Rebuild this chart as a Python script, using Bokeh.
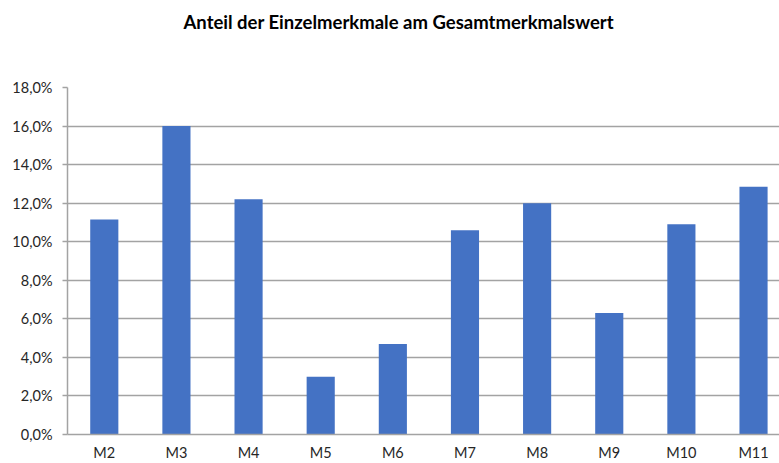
from bokeh.plotting import figure
from bokeh.models import FixedTicker, Range1d, Title
from bokeh.embed import file_html
from bokeh.resources import INLINE

categories = ["M2", "M3", "M4", "M5", "M6", "M7", "M8", "M9", "M10", "M11"]
shares = [11.15, 16.0, 12.2, 3.0, 4.7, 10.6, 12.0, 6.3, 10.9, 12.85]
y_ticks = [0, 2, 4, 6, 8, 10, 12, 14, 16, 18]
y_tick_labels = ["0,0%", "2,0%", "4,0%", "6,0%", "8,0%", "10,0%", "12,0%", "14,0%", "16,0%", "18,0%"]
title_text = "Anteil der Einzelmerkmale am Gesamtmerkmalswert"

FONT = "Lato"
TXT = "#262626"
GRID = "#a3a3a3"

xs = list(range(len(categories)))

p = figure(
    width=779, height=463,
    min_border_left=67, min_border_right=0, min_border_top=87, min_border_bottom=29,
    x_range=Range1d(-0.51, 9.36), y_range=Range1d(0, 18),
    output_backend="svg", toolbar_location=None,
)
p.background_fill_color = "white"
p.border_fill_color = "white"
p.outline_line_color = None

spacer = Title(text=" ", text_font_size="47px", standoff=0)
p.add_layout(spacer, "above")
t = Title(text=title_text, align="left", offset=116, text_font=FONT, text_font_size="18.5px",
          text_font_style="bold", text_color="black", standoff=0)
p.add_layout(t, "above")

p.vbar(x=xs, top=shares, width=0.39, fill_color="#4472C4", line_color=None)

# y axis
p.yaxis.ticker = FixedTicker(ticks=y_ticks)
p.yaxis.major_label_overrides = {t_: l for t_, l in zip(y_ticks, y_tick_labels)}
p.yaxis.major_label_text_font = FONT
p.yaxis.major_label_text_font_size = "14.5px"
p.yaxis.major_label_text_color = TXT
p.yaxis.axis_line_color = GRID
p.yaxis.axis_line_width = 1.5
p.yaxis.major_tick_line_color = GRID
p.yaxis.major_tick_line_width = 1.5
p.yaxis.major_tick_out = 5
p.yaxis.major_tick_in = 0
p.yaxis.minor_tick_line_color = None
p.yaxis.major_label_standoff = 10

# x axis
p.xaxis.ticker = FixedTicker(ticks=xs)
p.xaxis.major_label_overrides = {i: c for i, c in zip(xs, categories)}
p.xaxis.major_label_text_font = FONT
p.xaxis.major_label_text_font_size = "14.5px"
p.xaxis.major_label_text_color = TXT
p.xaxis.axis_line_color = GRID
p.xaxis.axis_line_width = 1.5
p.xaxis.major_tick_line_color = None
p.xaxis.minor_tick_line_color = None
p.xaxis.major_label_standoff = 3

p.xgrid.grid_line_color = None
p.ygrid.ticker = FixedTicker(ticks=y_ticks)
p.ygrid.grid_line_color = GRID
p.ygrid.grid_line_width = 1.5

open("out.html", "w").write(file_html(p, INLINE))
